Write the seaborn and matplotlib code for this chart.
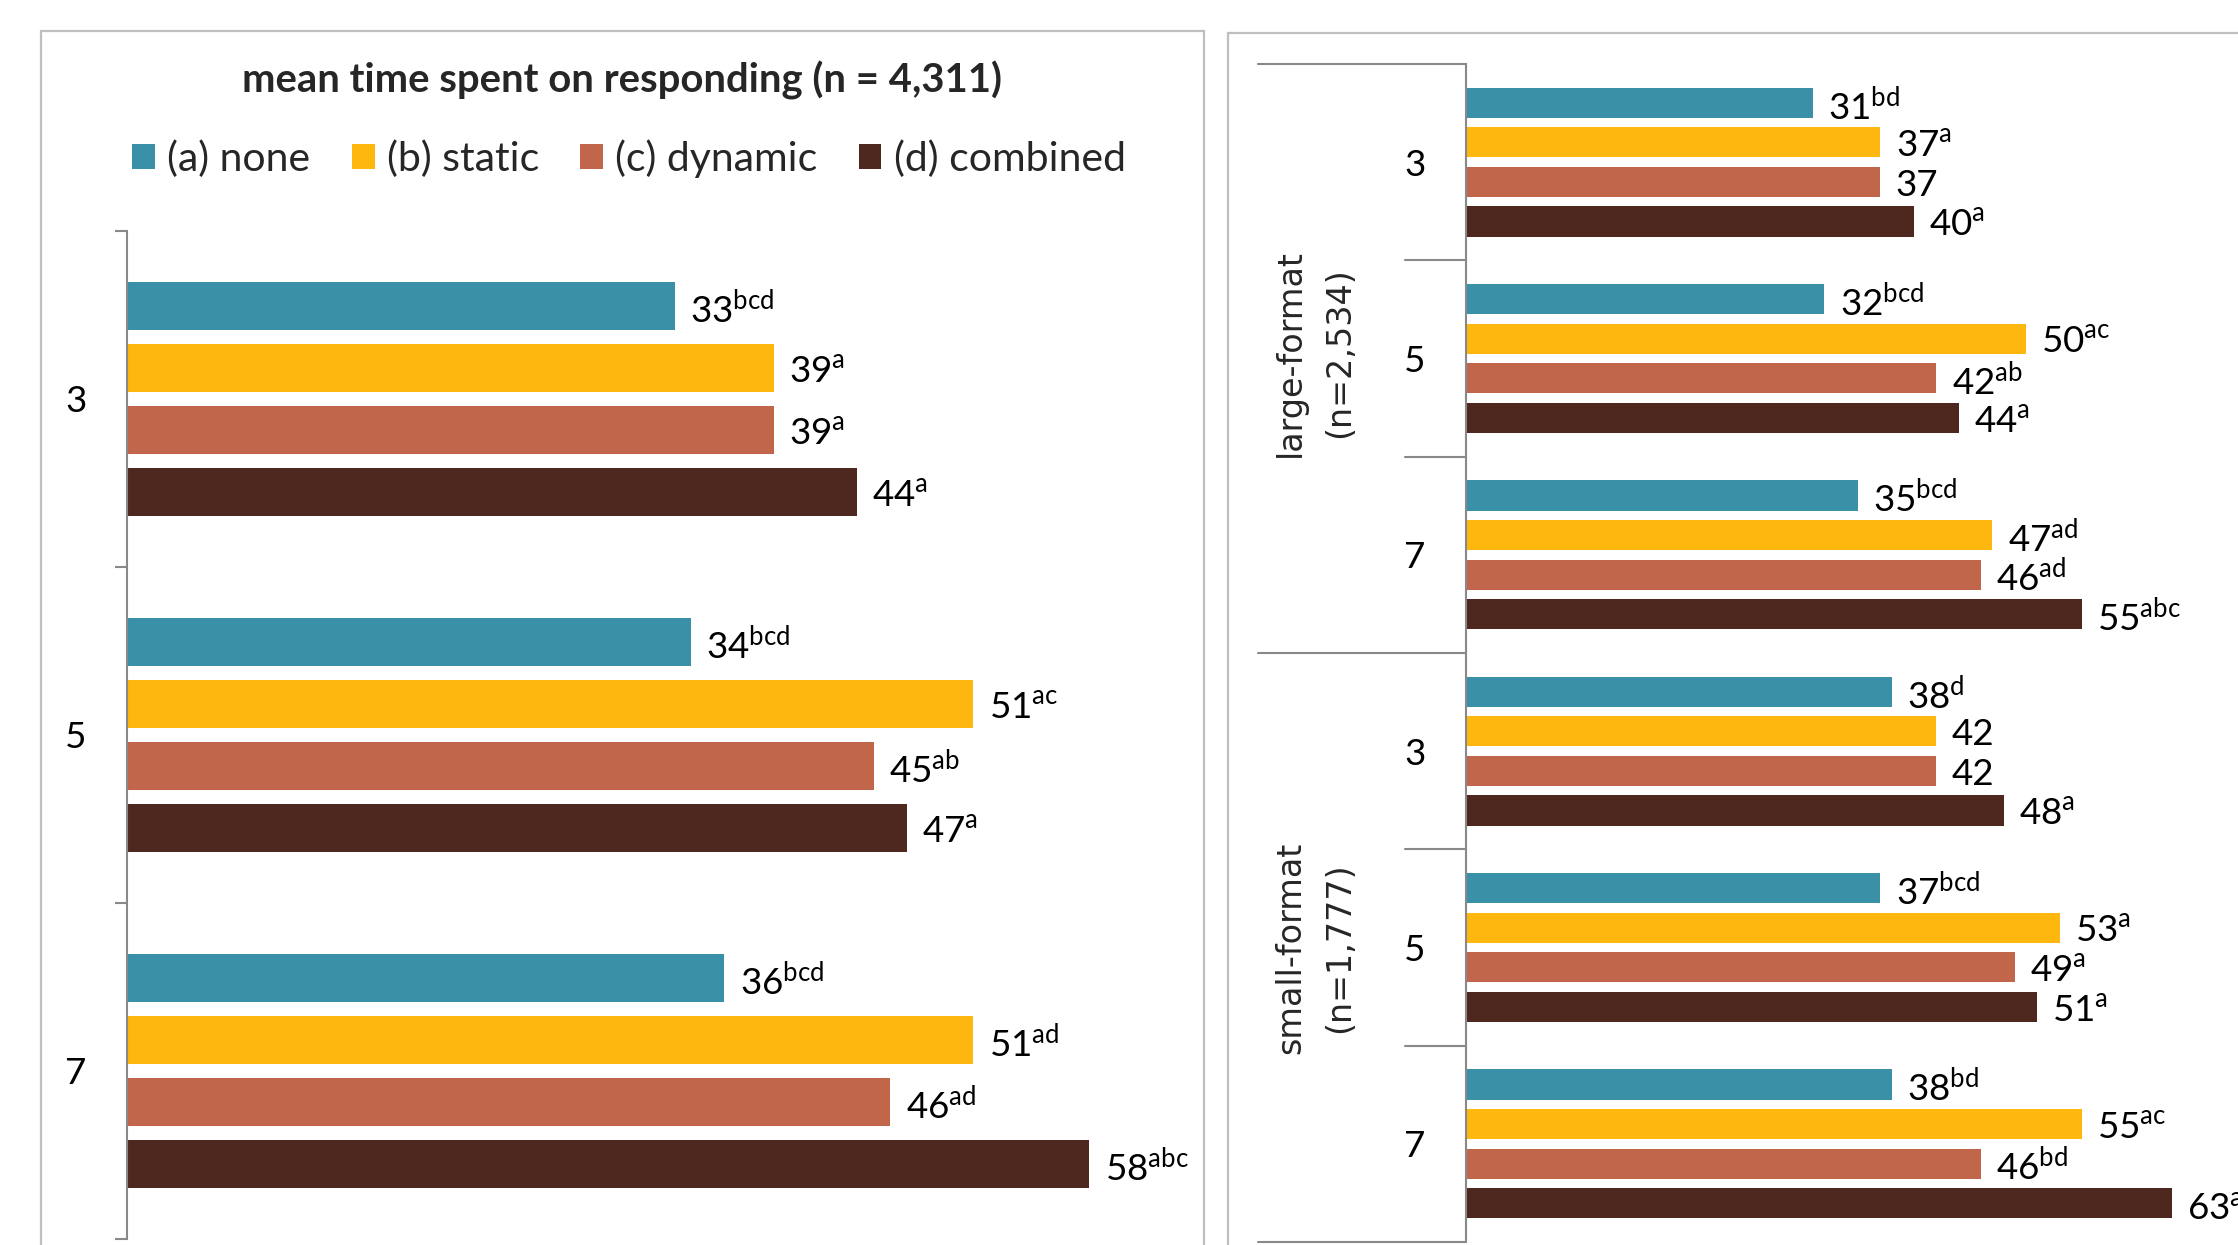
import numpy as np
import pandas as pd
import matplotlib
matplotlib.use("Agg")
import matplotlib.pyplot as plt
import matplotlib.transforms as mtransforms
from matplotlib.patches import Rectangle, Patch
import seaborn as sns

# ---------------- data ----------------
categories = ["3", "5", "7"]
treatments = ["(a) none", "(b) static", "(c) dynamic", "(d) combined"]
colors = ["#3A91A7", "#FDB70E", "#C1654B", "#4E271F"]

# overall (n = 4,311)
all_none = [33, 34, 36]
all_static = [39, 51, 51]
all_dynamic = [39, 45, 46]
all_combined = [44, 47, 58]
all_none_sig = ["bcd", "bcd", "bcd"]
all_static_sig = ["a", "ac", "ad"]
all_dynamic_sig = ["a", "ab", "ad"]
all_combined_sig = ["a", "a", "abc"]

# large-format (n=2,534)
large_none = [31, 32, 35]
large_static = [37, 50, 47]
large_dynamic = [37, 42, 46]
large_combined = [40, 44, 55]
large_none_sig = ["bd", "bcd", "bcd"]
large_static_sig = ["a", "ac", "ad"]
large_dynamic_sig = ["", "ab", "ad"]
large_combined_sig = ["a", "a", "abc"]

# small-format (n=1,777)
small_none = [38, 37, 38]
small_static = [42, 53, 55]
small_dynamic = [42, 49, 46]
small_combined = [48, 51, 63]
small_none_sig = ["d", "bcd", "bd"]
small_static_sig = ["", "a", "ac"]
small_dynamic_sig = ["", "a", "bd"]
small_combined_sig = ["a", "a", "abc"]

title = "mean time spent on responding (n = 4,311)"
group_labels = ["large-format\n(n=2,534)", "small-format\n(n=1,777)"]

# ---------------- build tables ----------------
def long_table(series, sigs, cats):
    rows = []
    for t, vals, ss in zip(treatments, series, sigs):
        for c, v, s in zip(cats, vals, ss):
            rows.append({"cat": c, "treatment": t, "value": v, "sig": s})
    return pd.DataFrame(rows)

df_all = long_table([all_none, all_static, all_dynamic, all_combined],
                    [all_none_sig, all_static_sig, all_dynamic_sig, all_combined_sig],
                    categories)
right_cats = ["L" + c for c in categories] + ["S" + c for c in categories]
df_right = long_table(
    [large_none + small_none, large_static + small_static,
     large_dynamic + small_dynamic, large_combined + small_combined],
    [large_none_sig + small_none_sig, large_static_sig + small_static_sig,
     large_dynamic_sig + small_dynamic_sig, large_combined_sig + small_combined_sig],
    right_cats)

def lab(v, s):
    return f"$\\mathregular{{{v}^{{{s}}}}}$" if s else str(v)

# ---------------- style ----------------
sns.set_style("white")
plt.rcParams["font.family"] = ["Lato", "DejaVu Sans"]
plt.rcParams["mathtext.fontset"] = "custom"
plt.rcParams["mathtext.rm"] = "Lato"

W, H = 2238, 1245
DPI = 100
fig = plt.figure(figsize=(W / DPI, H / DPI), dpi=DPI)
FS = 26.5
GRAY = "#898989"
BORDER = "#BFBFBF"

# panel borders
fig.patches.append(Rectangle((41 / W, -0.1), (1204 - 41) / W, 1.1 - 31 / H,
                             transform=fig.transFigure, fill=False,
                             ec=BORDER, lw=1.6, zorder=0))
fig.patches.append(Rectangle((1228 / W, -0.1), 0.9, 1.1 - 33 / H,
                             transform=fig.transFigure, fill=False,
                             ec=BORDER, lw=1.6, zorder=0))

pal = dict(zip(treatments, colors))

def add_labels(ax, df, cats):
    for cont, t in zip(ax.containers, treatments):
        sub = df[df.treatment == t].set_index("cat").loc[cats]
        anns = ax.bar_label(cont, labels=[lab(v, s) for v, s in zip(sub.value, sub.sig)],
                            padding=11, fontsize=FS, color="black")
        for a in anns:
            a.xyann = (11, -2.5)

# ---------------- left panel ----------------
axL = fig.add_axes([127 / W, 6 / H, 1062 / W, 1008 / H])
sns.barplot(data=df_all, y="cat", x="value", hue="treatment", order=categories,
            hue_order=treatments, palette=pal, saturation=1, orient="h",
            width=0.737, gap=0.234, linewidth=0, ax=axL, legend=False, errorbar=None)
axL.set_xlim(0, 64)
axL.set_ylim(2.5, -0.5)
add_labels(axL, df_all, categories)

# ---------------- right panel ----------------
axR = fig.add_axes([1466 / W, 3 / H, 784 / W, 1178 / H])
sns.barplot(data=df_right, y="cat", x="value", hue="treatment", order=right_cats,
            hue_order=treatments, palette=pal, saturation=1, orient="h",
            width=0.806, gap=0.24, linewidth=0, ax=axR, legend=False, errorbar=None)
axR.set_xlim(0, 70)
axR.set_ylim(5.5, -0.5)
add_labels(axR, df_right, right_cats)

# ---------------- axes styling ----------------
for ax, ncat in ((axL, 3), (axR, 6)):
    for sp in ("top", "right", "bottom"):
        ax.spines[sp].set_visible(False)
    ax.spines["left"].set_color(GRAY)
    ax.spines["left"].set_linewidth(1.5)
    ax.set_xlabel("")
    ax.set_ylabel("")
    ax.set_xticks([])
    ax.set_yticks(range(ncat))
    ax.tick_params(axis="y", which="major", left=False, length=0, pad=29,
                   labelsize=FS, labelcolor="black")

axL.set_yticklabels(categories)
axL.set_yticks(np.arange(-0.5, 3.0, 1.0), minor=True)
axL.tick_params(axis="y", which="minor", left=True, length=9, width=1.5, color=GRAY)

axR.set_yticklabels(categories + categories)
# group separators
trR = mtransforms.blended_transform_factory(axR.transAxes, axR.transData)
wR = 784.0
for yb in np.arange(-0.5, 6.0, 1.0):
    long_sep = yb in (-0.5, 2.5, 5.5)
    x0 = -(1466 - (1258 if long_sep else 1405)) / wR
    axR.plot([x0, 0], [yb, yb], color=GRAY, lw=1.5, transform=trR, clip_on=False)

trG = mtransforms.blended_transform_factory(fig.transFigure, axR.transData)
for yc, txt in zip((0.97, 4), group_labels):
    fig.text(1315 / W, yc, txt, transform=trG, rotation=90, ha="center", va="center",
             fontsize=24, family="DejaVu Sans", linespacing=1.6, multialignment="center")

# ---------------- title & legend ----------------
fig.text(622 / W, 1 - 80 / H, title, ha="center", va="center", fontsize=28.8,
         fontweight="bold")
handles = [Patch(facecolor=c, edgecolor="none") for c in colors]
fig.legend(handles, treatments, loc="center", bbox_to_anchor=(629 / W, 1 - 159 / H),
           ncol=4, frameon=False, fontsize=29.5, handlelength=0.56, handleheight=0.56,
           handletextpad=0.3, columnspacing=1.0, borderpad=0)

fig.savefig("out.png", dpi=DPI)
